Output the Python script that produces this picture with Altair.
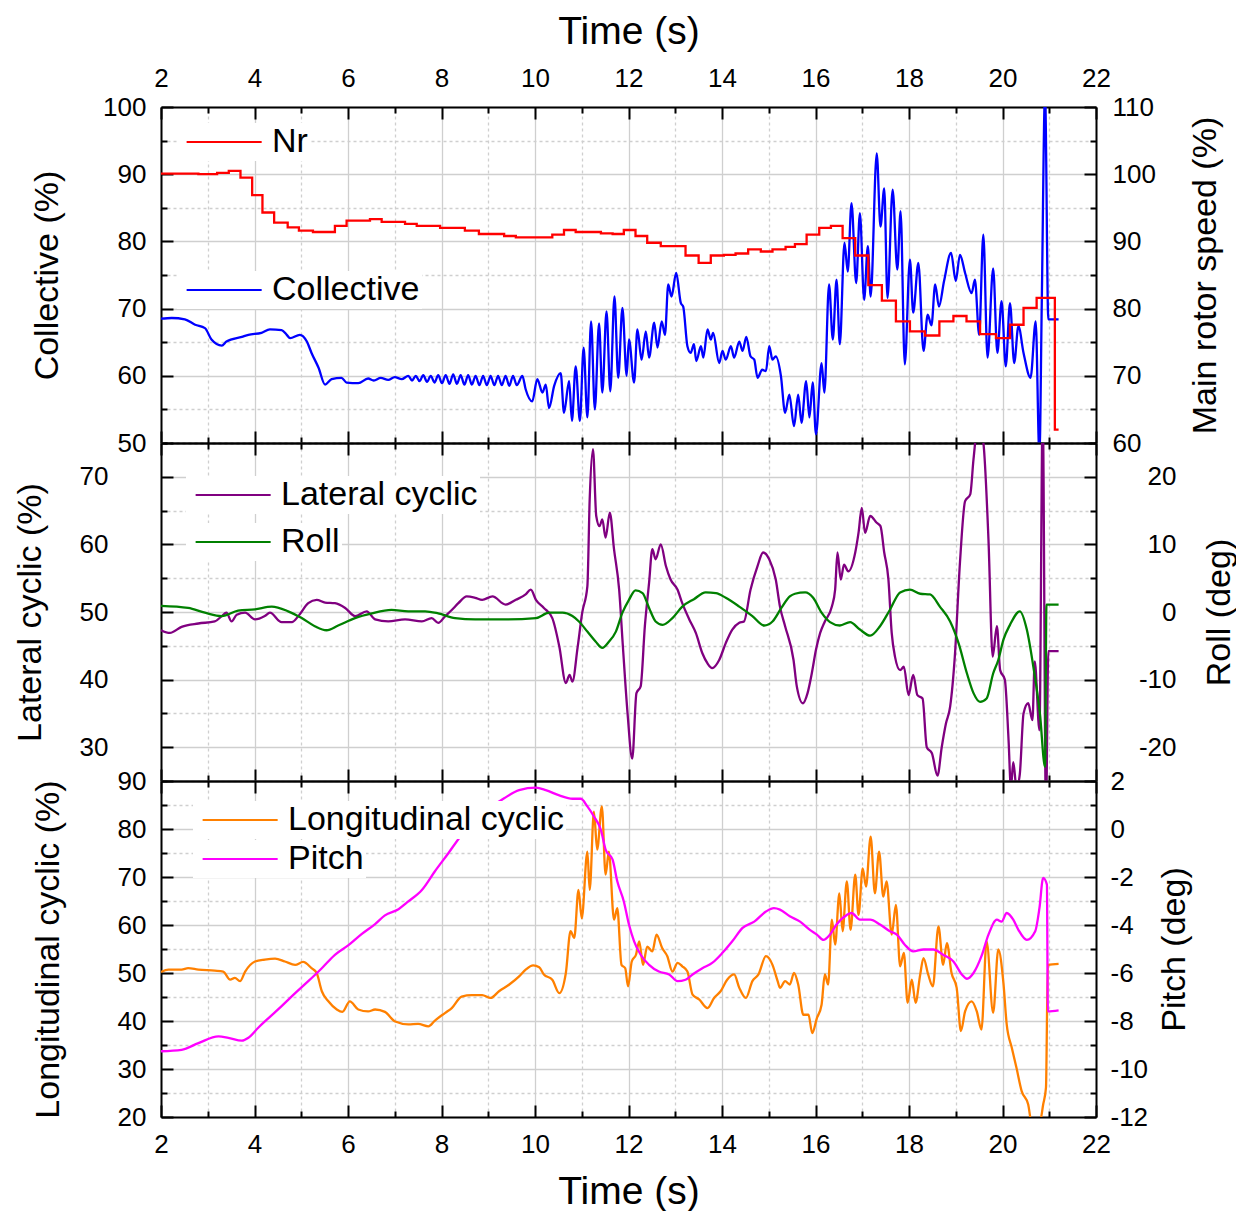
import altair as alt
import pandas as pd

FONT = "Liberation Sans"
TICK_FONT = 26
TITLE_FONT = 34
XTITLE_FONT = 39
LEGEND_FONT = 34

time_ticks = list(range(2, 23))

# ---------------- top panel ----------------
nr = [(2.0, 100.1), (2.8, 100.0), (3.2, 100.2), (3.45, 100.5), (3.7, 99.5), (3.95, 96.9),
      (4.17, 94.3), (4.42, 92.8), (4.71, 92.1), (4.95, 91.6), (5.25, 91.4), (5.72, 92.3),
      (5.97, 93.1), (6.47, 93.3), (6.72, 92.9), (7.22, 92.6), (7.47, 92.3), (7.97, 92.0),
      (8.5, 91.6), (8.8, 91.1), (9.34, 90.8), (9.59, 90.6), (10.37, 91.0), (10.62, 91.7),
      (10.87, 91.4), (11.41, 91.2), (11.66, 91.1), (11.9, 91.7), (12.15, 90.8), (12.4, 89.8),
      (12.69, 89.3), (13.22, 87.9), (13.5, 86.8), (13.76, 87.9), (14.04, 88.0), (14.29, 88.2),
      (14.56, 88.8), (14.83, 88.5), (15.08, 88.8), (15.36, 89.2), (15.56, 89.6), (15.81, 91.0),
      (16.08, 92.0), (16.33, 92.3), (16.58, 90.5), (16.85, 87.9), (17.13, 83.5), (17.42, 81.2),
      (17.72, 78.1), (18.02, 76.6), (18.34, 76.0), (18.65, 78.1), (18.95, 78.9), (19.23, 78.1),
      (19.52, 76.2), (19.86, 75.6), (20.16, 77.6), (20.45, 80.1), (20.73, 81.6), (21.12, 62.0),
      (21.2, 62.0)]

collective = [(2.00, 68.5), (2.23, 68.6), (2.51, 68.4), (2.73, 67.6), (2.94, 67.1), (3.08, 65.4),
              (3.30, 64.5), (3.40, 65.1), (3.73, 65.8), (3.87, 66.1), (4.15, 66.4), (4.33, 66.9),
              (4.58, 66.8), (4.69, 66.1), (4.76, 65.6), (4.97, 66.1), (5.12, 65.1), (5.22, 63.4),
              (5.37, 61.2), (5.51, 58.7), (5.65, 59.5), (5.86, 59.7), (5.97, 59.0), (6.22, 58.9),
              (6.43, 59.6), (6.55, 59.3), (6.70, 59.7), (6.86, 59.4), (7.00, 59.8), (7.15, 59.5),
              (7.29, 60.0), (7.37, 59.3), (7.45, 60.0), (7.53, 59.2), (7.61, 60.1), (7.69, 59.1),
              (7.77, 60.0), (7.85, 59.0), (7.93, 60.1), (8.01, 58.9), (8.09, 60.1), (8.17, 58.8),
              (8.25, 60.2), (8.33, 58.8), (8.41, 60.1), (8.49, 58.7), (8.57, 60.1), (8.65, 58.7),
              (8.73, 60.0), (8.81, 58.6), (8.89, 60.0), (8.97, 58.6), (9.05, 60.0), (9.13, 58.6),
              (9.21, 60.0), (9.29, 58.6), (9.37, 60.0), (9.45, 58.5), (9.53, 60.0), (9.61, 58.6),
              (9.73, 60.0), (9.80, 58.0), (9.94, 56.2), (10.05, 59.5), (10.16, 57.5), (10.23, 58.7),
              (10.30, 55.2), (10.41, 58.5), (10.55, 60.4), (10.62, 54.5), (10.73, 59.2), (10.79, 53.3),
              (10.87, 61.4), (10.96, 53.3), (11.04, 64.2), (11.12, 53.8), (11.20, 68.1), (11.28, 55.0),
              (11.37, 67.8), (11.44, 57.5), (11.53, 69.6), (11.61, 57.7), (11.70, 71.8), (11.78, 59.7),
              (11.87, 70.1), (11.96, 60.0), (12.01, 65.4), (12.12, 59.0), (12.19, 66.9), (12.28, 62.4),
              (12.37, 66.6), (12.44, 62.7), (12.55, 67.9), (12.62, 64.2), (12.71, 68.1), (12.78, 66.1),
              (12.85, 73.6), (12.92, 71.8), (13.02, 75.3), (13.12, 70.8), (13.17, 70.3), (13.26, 64.4),
              (13.33, 63.4), (13.40, 64.7), (13.45, 62.2), (13.55, 64.4), (13.60, 62.7), (13.69, 66.9),
              (13.76, 65.4), (13.81, 66.4), (13.94, 61.9), (14.01, 63.7), (14.08, 62.4), (14.19, 64.4),
              (14.26, 62.7), (14.37, 65.1), (14.44, 63.7), (14.52, 65.8), (14.61, 62.9), (14.69, 62.4),
              (14.76, 59.7), (14.86, 60.9), (14.94, 60.7), (15.01, 64.4), (15.08, 62.4), (15.15, 62.9),
              (15.26, 60.0), (15.35, 54.5), (15.44, 57.2), (15.54, 52.5), (15.63, 57.2), (15.70, 53.0),
              (15.80, 59.2), (15.87, 53.8), (15.94, 59.0), (16.01, 51.3), (16.13, 61.9), (16.19, 57.5),
              (16.29, 73.6), (16.37, 65.4), (16.45, 74.3), (16.52, 64.7), (16.62, 79.8), (16.69, 75.5),
              (16.77, 85.7), (16.87, 73.8), (16.95, 84.2), (17.04, 71.3), (17.12, 79.3), (17.18, 71.8),
              (17.31, 93.1), (17.39, 82.2), (17.47, 87.9), (17.54, 71.6), (17.65, 87.7), (17.75, 75.8),
              (17.82, 84.5), (17.91, 61.7), (18.02, 77.3), (18.09, 69.4), (18.20, 76.8), (18.31, 63.7),
              (18.40, 69.1), (18.48, 67.5), (18.56, 73.6), (18.64, 70.3), (18.75, 74.1), (18.90, 78.3),
              (19.00, 74.1), (19.09, 78.0), (19.20, 75.3), (19.34, 72.3), (19.41, 74.3), (19.50, 66.1),
              (19.59, 81.0), (19.68, 62.7), (19.80, 76.0), (19.89, 63.4), (19.98, 71.1), (20.07, 61.4),
              (20.16, 70.8), (20.25, 61.9), (20.34, 67.4), (20.45, 63.4), (20.60, 59.7), (20.71, 68.1),
              (20.79, 48.0), (20.84, 70.8), (20.91, 102.0), (20.98, 68.4), (21.2, 68.4)]

# ---------------- middle panel ----------------
lateral = [(2.00, 47.3), (2.19, 46.9), (2.44, 47.8), (2.80, 48.3), (3.15, 48.6), (3.30, 49.4),
           (3.40, 49.9), (3.51, 48.6), (3.62, 49.6), (3.80, 49.9), (4.01, 48.9), (4.22, 49.4),
           (4.33, 49.9), (4.58, 48.5), (4.80, 48.5), (4.94, 49.4), (5.15, 51.3), (5.33, 51.8),
           (5.51, 51.4), (5.72, 51.3), (5.94, 50.6), (6.15, 49.4), (6.40, 50.1), (6.58, 48.9),
           (6.86, 48.6), (7.22, 48.9), (7.58, 48.6), (7.79, 49.1), (7.93, 48.4), (8.08, 49.4),
           (8.22, 50.3), (8.36, 51.3), (8.54, 52.3), (8.72, 52.1), (8.87, 51.8), (9.09, 52.3),
           (9.37, 51.1), (9.59, 51.8), (9.80, 52.6), (9.91, 53.3), (10.02, 51.8), (10.19, 50.6),
           (10.37, 49.1), (10.52, 44.9), (10.66, 39.5), (10.74, 40.7), (10.80, 39.7), (10.91, 44.7),
           (11.01, 49.9), (11.12, 53.8), (11.17, 66.7), (11.24, 74.1), (11.31, 64.2), (11.38, 62.7),
           (11.44, 63.7), (11.51, 61.0), (11.60, 64.7), (11.69, 59.3), (11.80, 53.3), (11.88, 44.9),
           (11.98, 35.0), (12.08, 28.3), (12.17, 38.0), (12.26, 39.0), (12.35, 47.9), (12.44, 54.3),
           (12.51, 59.3), (12.58, 57.8), (12.69, 60.0), (12.80, 56.8), (12.90, 54.8), (13.05, 53.3),
           (13.15, 51.3), (13.30, 48.9), (13.44, 46.9), (13.58, 43.9), (13.69, 42.4), (13.79, 41.7),
           (13.94, 42.9), (14.08, 45.4), (14.22, 47.4), (14.37, 48.4), (14.47, 48.6), (14.61, 53.3),
           (14.76, 56.8), (14.88, 58.8), (15.01, 57.8), (15.15, 54.8), (15.24, 50.8), (15.35, 47.9),
           (15.53, 42.9), (15.60, 39.0), (15.73, 36.5), (15.83, 38.0), (15.92, 40.9), (16.01, 44.4),
           (16.10, 46.9), (16.20, 48.6), (16.35, 50.8), (16.42, 53.3), (16.47, 58.8), (16.54, 54.8),
           (16.61, 57.0), (16.70, 56.0), (16.85, 58.8), (16.92, 61.7), (16.99, 65.4), (17.06, 61.7),
           (17.17, 64.2), (17.31, 63.2), (17.39, 62.7), (17.47, 58.8), (17.56, 54.8), (17.63, 46.9),
           (17.70, 43.4), (17.81, 41.4), (17.89, 41.9), (17.99, 37.7), (18.09, 40.7), (18.18, 37.7),
           (18.29, 37.2), (18.38, 30.0), (18.49, 29.1), (18.61, 25.8), (18.70, 30.0), (18.79, 33.5),
           (18.88, 36.0), (18.98, 43.4), (19.09, 57.3), (19.20, 66.4), (19.31, 67.4), (19.38, 72.6),
           (19.48, 78.0), (19.59, 75.1), (19.70, 60.7), (19.79, 43.4), (19.88, 47.9), (19.95, 41.4),
           (20.05, 40.0), (20.13, 31.0), (20.18, 24.0), (20.23, 27.8), (20.30, 24.0), (20.37, 26.0),
           (20.45, 35.0), (20.55, 36.5), (20.64, 34.0), (20.69, 42.7), (20.79, 32.5), (20.86, 80.0),
           (20.93, 20.0), (20.98, 44.2), (21.2, 44.2)]

roll = [(2.00, 0.9), (2.58, 0.6), (2.94, -0.1), (3.30, -0.6), (3.65, 0.2), (4.01, 0.4), (4.37, 0.8),
        (4.72, 0.1), (5.01, -0.9), (5.29, -2.1), (5.54, -2.7), (5.79, -2.0), (6.15, -0.9),
        (6.51, -0.2), (6.93, 0.3), (7.29, 0.1), (7.65, 0.1), (7.93, -0.2), (8.29, -0.9),
        (8.72, -1.1), (9.37, -1.1), (10.02, -0.9), (10.30, -0.1), (10.59, -0.1), (10.80, -0.6),
        (10.94, -1.4), (11.12, -2.9), (11.30, -4.4), (11.44, -5.3), (11.58, -4.4), (11.73, -2.9),
        (11.87, -0.1), (12.01, 1.8), (12.15, 3.2), (12.30, 2.8), (12.44, 0.6), (12.58, -1.4),
        (12.73, -1.9), (12.94, -0.9), (13.15, 0.8), (13.40, 1.9), (13.65, 2.9), (13.87, 2.8),
        (14.08, 2.1), (14.37, 0.8), (14.65, -0.6), (14.90, -2.0), (15.08, -1.4), (15.27, 0.6),
        (15.45, 2.3), (15.56, 2.7), (15.78, 2.9), (15.95, 2.1), (16.13, -0.1), (16.31, -1.5),
        (16.52, -2.0), (16.74, -1.5), (16.95, -2.6), (17.17, -3.5), (17.38, -2.1), (17.59, 0.3),
        (17.81, 2.9), (18.02, 3.3), (18.24, 2.7), (18.45, 2.6), (18.66, 0.8), (18.88, -1.4),
        (19.06, -4.6), (19.24, -9.1), (19.38, -12.0), (19.52, -13.3), (19.66, -12.8), (19.80, -9.1),
        (19.91, -7.1), (20.02, -4.1), (20.16, -1.9), (20.37, 0.1), (20.52, -2.6), (20.66, -8.1),
        (20.80, -15.0), (20.91, -22.9), (20.94, 1.1), (21.2, 1.1)]

# ---------------- bottom panel ----------------
longitudinal = [(2.00, 50.2), (2.16, 50.7), (2.44, 50.7), (2.58, 51.0), (2.80, 50.7), (3.15, 50.5),
                (3.33, 50.3), (3.48, 48.6), (3.58, 49.0), (3.69, 48.3), (3.80, 50.3), (4.01, 52.4),
                (4.22, 52.8), (4.44, 53.0), (4.65, 52.4), (4.87, 51.7), (5.04, 52.3), (5.22, 51.0),
                (5.33, 50.0), (5.44, 46.2), (5.58, 44.1), (5.76, 42.4), (5.88, 41.9), (6.04, 44.1),
                (6.22, 42.4), (6.43, 42.0), (6.58, 42.4), (6.79, 41.9), (7.01, 39.9), (7.29, 39.3),
                (7.50, 39.4), (7.72, 38.9), (7.86, 40.1), (8.08, 41.7), (8.22, 42.7), (8.43, 45.1),
                (8.65, 45.4), (8.87, 45.4), (9.05, 44.8), (9.23, 46.2), (9.45, 47.6), (9.66, 49.3),
                (9.80, 50.7), (9.96, 51.6), (10.09, 51.2), (10.19, 49.7), (10.37, 48.6), (10.52, 45.8),
                (10.66, 50.0), (10.76, 58.7), (10.84, 57.3), (10.93, 67.3), (11.00, 61.4), (11.12, 75.3),
                (11.17, 67.3), (11.26, 83.6), (11.33, 75.7), (11.43, 84.7), (11.51, 70.5), (11.58, 75.3),
                (11.69, 61.1), (11.76, 63.5), (11.85, 51.7), (11.93, 51.0), (11.99, 47.2), (12.07, 52.4),
                (12.16, 53.8), (12.23, 56.6), (12.31, 51.7), (12.40, 55.5), (12.51, 54.5), (12.60, 58.0),
                (12.72, 55.2), (12.83, 53.5), (12.94, 50.3), (13.05, 52.1), (13.15, 51.4), (13.26, 50.3),
                (13.37, 45.5), (13.51, 44.5), (13.69, 42.7), (13.83, 44.8), (13.97, 46.2), (14.11, 48.6),
                (14.26, 49.7), (14.37, 46.9), (14.51, 44.8), (14.65, 48.3), (14.78, 49.7), (14.94, 53.5),
                (15.08, 51.7), (15.19, 48.3), (15.24, 46.9), (15.35, 48.3), (15.45, 47.6), (15.54, 50.0),
                (15.63, 47.6), (15.74, 41.3), (15.85, 41.3), (15.93, 37.5), (16.03, 40.6), (16.13, 43.4),
                (16.20, 49.7), (16.27, 47.6), (16.35, 61.1), (16.42, 55.9), (16.51, 66.6), (16.58, 58.7),
                (16.67, 69.1), (16.75, 59.0), (16.85, 70.5), (16.92, 62.1), (17.01, 71.8), (17.08, 68.0),
                (17.18, 78.4), (17.27, 66.6), (17.36, 75.3), (17.45, 65.9), (17.52, 69.1), (17.63, 58.0),
                (17.72, 64.2), (17.81, 51.4), (17.89, 54.2), (17.97, 43.8), (18.06, 48.6), (18.14, 43.8),
                (18.24, 49.7), (18.31, 53.1), (18.41, 49.7), (18.51, 47.2), (18.63, 59.7), (18.73, 51.7),
                (18.81, 56.2), (18.91, 50.0), (19.02, 46.9), (19.11, 37.9), (19.20, 42.0), (19.34, 44.1),
                (19.45, 42.0), (19.55, 38.2), (19.66, 56.6), (19.80, 41.7), (19.91, 54.9), (20.02, 47.9),
                (20.09, 39.3), (20.20, 34.4), (20.30, 30.2), (20.41, 25.4), (20.55, 22.6), (20.62, 19.0),
                (20.80, 19.0), (20.87, 22.6), (20.93, 26.1), (20.97, 51.7), (21.2, 51.9)]

pitch = [(2.00, -9.26), (2.44, -9.20), (2.80, -8.92), (3.23, -8.64), (3.44, -8.70), (3.73, -8.82),
         (3.87, -8.70), (4.08, -8.28), (4.30, -7.88), (4.58, -7.38), (4.87, -6.84), (5.15, -6.34),
         (5.44, -5.80), (5.72, -5.24), (6.01, -4.84), (6.29, -4.38), (6.58, -3.96), (6.79, -3.60),
         (7.08, -3.34), (7.29, -3.02), (7.58, -2.54), (7.86, -1.76), (8.15, -1.00), (8.40, -0.32),
         (9.34, 1.28), (9.66, 1.62), (10.02, 1.72), (10.23, 1.62), (10.52, 1.40), (10.80, 1.26),
         (10.98, 1.26), (11.12, 0.94), (11.26, 0.52), (11.41, -0.04), (11.51, -0.86), (11.66, -1.28),
         (11.76, -2.18), (11.90, -3.02), (12.01, -3.98), (12.12, -4.68), (12.26, -5.24), (12.44, -5.66),
         (12.65, -5.94), (12.87, -6.06), (13.05, -6.34), (13.22, -6.28), (13.37, -6.06), (13.58, -5.80),
         (13.79, -5.58), (14.01, -5.16), (14.22, -4.68), (14.44, -4.12), (14.69, -3.86), (14.94, -3.44),
         (15.11, -3.30), (15.24, -3.36), (15.45, -3.64), (15.67, -3.86), (15.88, -4.20), (16.03, -4.40),
         (16.17, -4.62), (16.31, -4.40), (16.45, -3.98), (16.67, -3.58), (16.77, -3.50), (16.95, -3.78),
         (17.17, -3.78), (17.38, -3.98), (17.59, -4.26), (17.74, -4.40), (17.91, -4.82), (18.09, -5.10),
         (18.31, -5.02), (18.52, -5.02), (18.73, -5.24), (18.95, -5.52), (19.13, -6.06), (19.24, -6.24),
         (19.38, -6.00), (19.55, -5.30), (19.70, -4.40), (19.88, -3.78), (19.98, -3.86), (20.09, -3.50),
         (20.23, -3.78), (20.34, -4.20), (20.52, -4.62), (20.70, -4.26), (20.79, -3.30), (20.87, -2.04),
         (20.95, -2.32), (20.97, -7.60), (21.2, -7.56)]

W = 935


def frame(pairs, name):
    return pd.DataFrame({"t": [p[0] for p in pairs], "v": [p[1] for p in pairs], "s": name})


def base_axis():
    return dict(domainColor="black", domainWidth=2, tickColor="black", tickWidth=2,
                tickSize={"expr": "-12"}, labelFont=FONT, labelFontSize=TICK_FONT,
                labelColor="black", titleFont=FONT, titleFontWeight="normal",
                titleColor="black", labelOverlap=False, labelFlush=False)


def minor_tick(mod):
    return {"condition": {"test": f"datum.value % {mod} !== 0", "value": [6, 40]}, "value": []}


def minor_grid(mod):
    return {"condition": {"test": f"datum.value % {mod} !== 0", "value": [3, 3]}, "value": []}


def label_expr(mod):
    return f"datum.value % {mod} === 0 ? '' + datum.value : ''"


def x_axis(orient, labelled, grid):
    kw = base_axis()
    kw.update(orient=orient, values=time_ticks, tickDash=minor_tick(2), grid=grid, labels=labelled)
    if labelled:
        kw.update(labelExpr=label_expr(2),
                  labelPadding=28 if orient == "top" else 26,
                  title="Time (s)", titleFontSize=XTITLE_FONT,
                  titlePadding=14 if orient == "top" else 15)
    else:
        kw.update(title=None)
    if grid:
        kw.update(gridColor="#cfcfcf", gridWidth=1.3, gridDash=minor_grid(2))
    return alt.Axis(**kw)


def y_axis(orient, ticks, mod, title, label_pad, title_pad, grid, align=None):
    kw = base_axis()
    kw.update(orient=orient, values=ticks, tickDash=minor_tick(mod), labelExpr=label_expr(mod),
              labelPadding=12 + label_pad, title=title, titleFontSize=TITLE_FONT,
              titlePadding=title_pad, titleAngle=270, grid=grid)
    if orient == "right":
        kw["titleBaseline"] = "top"
    if align:
        kw["labelAlign"] = align
    if grid:
        kw.update(gridColor="#cfcfcf", gridWidth=1.3, gridDash=minor_grid(mod))
    return alt.Axis(**kw)


def legend(x, y):
    return alt.Legend(orient="none", legendX=x, legendY=y, title=None, symbolType="M-1,0H7",
                      symbolSize=352, symbolStrokeWidth=2, labelFont=FONT,
                      labelFontSize=LEGEND_FONT, labelColor="black", labelOffset=59,
                      labelLimit=500, padding=2, fillColor="white")


def panel(h, left_name, left_pairs, left_color, right_name, right_pairs, right_color,
          leg_x, left_leg_y, right_leg_y,
          ldom, lticks, lmod, ltitle, lpad, ltpad,
          rdom, rticks, rmod, rtitle, rpad, rtpad, ralign,
          top_labels, bottom_labels, right_interp="monotone"):
    xs = alt.Scale(domain=[2, 22], nice=False, zero=False)
    left = alt.Chart(frame(left_pairs, left_name)).mark_line(
        clip=True, strokeWidth=2.3, interpolate="monotone").encode(
        x=alt.X("t:Q", scale=xs, axis=x_axis("top", top_labels, True)),
        y=alt.Y("v:Q", scale=alt.Scale(domain=ldom, nice=False, zero=False),
                axis=y_axis("left", lticks, lmod, ltitle, lpad, ltpad, True)),
        color=alt.Color("s:N", scale=alt.Scale(domain=[left_name], range=[left_color]),
                        legend=legend(leg_x, left_leg_y)),
    )
    right = alt.Chart(frame(right_pairs, right_name)).mark_line(
        clip=True, strokeWidth=2.3, interpolate=right_interp).encode(
        x=alt.X("t:Q", scale=xs, axis=x_axis("bottom", bottom_labels, False)),
        y=alt.Y("v:Q", scale=alt.Scale(domain=rdom, nice=False, zero=False),
                axis=y_axis("right", rticks, rmod, rtitle, rpad, rtpad, False, ralign)),
        stroke=alt.Stroke("s:N", scale=alt.Scale(domain=[right_name], range=[right_color]),
                          legend=legend(leg_x, right_leg_y)),
    )
    return alt.layer(left, right).resolve_scale(x="independent", y="independent").properties(
        width=W, height=h)


top = panel(336, "Collective", collective, "#0000ff", "Nr", nr, "#ff0000",
            16, 164, 16,
            [50, 100], list(range(50, 101, 5)), 10, "Collective (%)", 15, 38,
            [60, 110], list(range(60, 111, 5)), 10, "Main rotor speed (%)", 16, 33, None,
            True, False, right_interp="step-after")

middle = panel(338, "Lateral cyclic", lateral, "#800080", "Roll", roll, "#008000",
               25, 33, 80,
               [25, 75], list(range(25, 76, 5)), 10, "Lateral cyclic (%)", 53, 32,
               [-25, 25], list(range(-25, 26, 5)), 10, "Roll (deg)", 80, 26, "right",
               False, False)

bottom = panel(336, "Longitudinal cyclic", longitudinal, "#ff8000", "Pitch", pitch, "#ff00ff",
               32, 20, 59,
               [20, 90], list(range(20, 91, 5)), 10, "Longitudinal cyclic (%)", 15, 52,
               [-12, 2], list(range(-12, 3, 1)), 2, "Pitch (deg)", 14, 10, None,
               False, True)

chart = alt.vconcat(top, middle, bottom, spacing=0, bounds="flush").resolve_scale(
    x="independent", y="independent", color="independent", stroke="independent"
).configure_view(strokeWidth=0).properties(
    padding={"left": 5, "top": 4, "right": 0, "bottom": 0}
)

chart.save("out.html", embed_options={"renderer": "svg", "actions": False})
